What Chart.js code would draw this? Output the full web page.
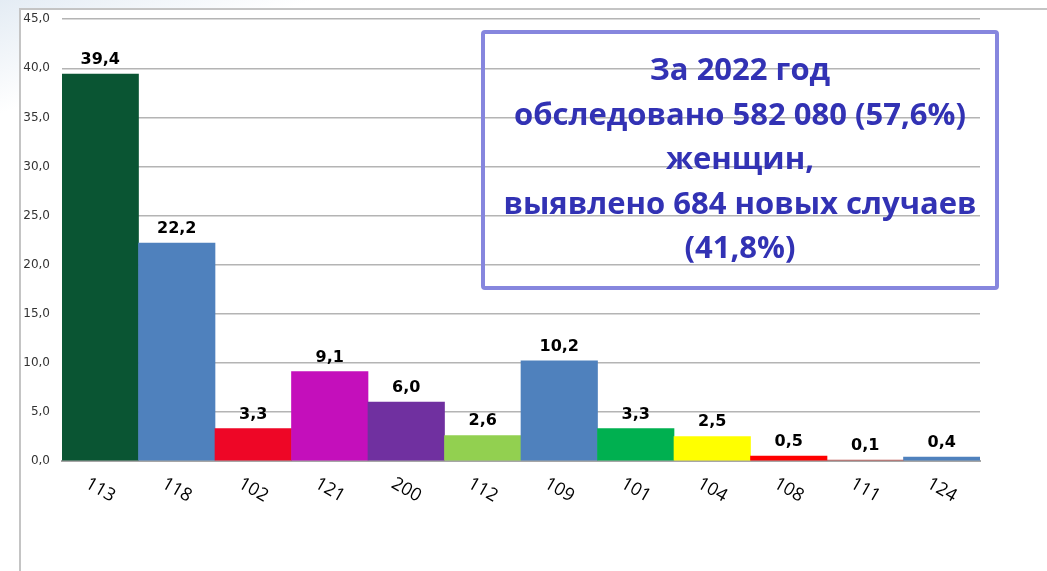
<!DOCTYPE html>
<html>
<head>
<meta charset="utf-8">
<script src="https://cdn.jsdelivr.net/npm/chart.js@4/dist/chart.umd.min.js"></script>
<style>
    html, body { margin: 0; padding: 0; }
    body {
        width: 1047px; height: 571px; overflow: hidden; position: relative;
        background: linear-gradient(160deg, #e4ecf4 0%, #ffffff 12%, #ffffff 100%);
    }
    .frame {
        position: absolute; left: 19px; top: 8px; right: 0; bottom: 0;
        background: #fff;
        border-left: 2px solid #c4c4c4; border-top: 2px solid #c4c4c4;
    }
    #wrap { position: absolute; left: 0; top: 0; width: 1047px; height: 571px; }
    .note {
        position: absolute; left: 481px; top: 30px; width: 510px; height: 240px;
        border: 4px solid #8686de; border-radius: 4px;
        font-family: "Open Sans", sans-serif; font-weight: bold; font-size: 31px;
        line-height: 44.5px; color: #3232b4; text-align: center;
        padding-top: 12px; box-sizing: content-box; white-space: nowrap;
    }
</style>
</head>
<body>
<div class="frame"></div>
<div id="wrap"><canvas id="chart"></canvas></div>
<div class="note" id="note"></div>
<script>
// Categories, values and bar colours
const codes = ["113", "118", "102", "121", "200", "112", "109", "101", "104", "108", "111", "124"];
const shares = [39.4, 22.2, 3.3, 9.1, 6.0, 2.6, 10.2, 3.3, 2.5, 0.5, 0.1, 0.4];
const barColors = ["#0a5533", "#4f81bd", "#ee0626", "#c40fbb", "#7030a0", "#92d050",
                   "#4f81bd", "#00b050", "#ffff00", "#ff0000", "#c0504d", "#4f81bd"];
const noteLines = ["За 2022 год", "обследовано 582 080 (57,6%)", "женщин,",
                   "выявлено 684 новых случаев", "(41,8%)"];

const fmt = v => v.toFixed(1).replace(".", ",");

document.getElementById("note").innerHTML = noteLines.join("<br>");

// values above bars + rotated category labels
const labelsPlugin = {
    id: "labelsPlugin",
    afterDatasetsDraw(chart) {
        const ctx = chart.ctx;
        const meta = chart.getDatasetMeta(0);
        ctx.save();
        ctx.fillStyle = "#000";
        ctx.font = "bold 16px 'DejaVu Sans'";
        ctx.textAlign = "center";
        ctx.textBaseline = "alphabetic";
        meta.data.forEach((bar, i) => {
            ctx.fillText(fmt(shares[i]), bar.x, bar.y - 10);
        });

        const xScale = chart.scales.x;
        ctx.font = "18px 'Open Sans'";
        ctx.textBaseline = "middle";
        codes.forEach((c, i) => {
            const x = xScale.getPixelForTick(i);
            ctx.save();
            ctx.translate(x, chart.chartArea.bottom + 29);
            ctx.rotate(30 * Math.PI / 180);
            ctx.fillText(c, 0, 0);
            ctx.restore();
        });
        ctx.restore();
    }
};

new Chart(document.getElementById("chart"), {
    type: "bar",
    data: {
        labels: codes,
        datasets: [{
            data: shares,
            backgroundColor: barColors,
            borderWidth: 0,
            barPercentage: 1,
            categoryPercentage: 1,
        }],
    },
    options: {
        responsive: true,
        maintainAspectRatio: false,
        animation: false,
        layout: { padding: { left: 20, top: 16, right: 67, bottom: 102 } },
        plugins: {
            legend: { display: false },
            tooltip: { enabled: false },
        },
        scales: {
            x: {
                ticks: { display: false },
                grid: { display: false },
                border: { color: "#a6a6a6", width: 2 },
            },
            y: {
                min: 0,
                max: 45,
                afterFit(scale) { scale.width = 42; },
                ticks: {
                    stepSize: 5,
                    padding: 12,
                    color: "#333",
                    font: { family: "'DejaVu Sans'", size: 12 },
                    callback: v => fmt(v),
                },
                grid: { color: "#b4b4b4", lineWidth: 1.5, drawTicks: false },
                border: { display: false },
            },
        },
    },
    plugins: [labelsPlugin],
});
</script>
</body>
</html>
